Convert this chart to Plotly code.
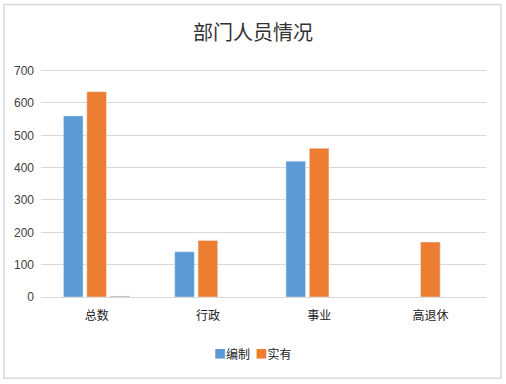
import plotly.graph_objects as go

categories = ["总数", "行政", "事业", "高退休"]
bianzhi = [560, 140, 420, None]
shiyou = [635, 175, 460, 170]
other = [3, None, None, None]
y_ticks = [0, 100, 200, 300, 400, 500, 600, 700]
series_names = ["编制", "实有"]
series_colors = ["#5B9BD5", "#ED7D31"]

font_cjk = "Noto Sans CJK SC"

fig = go.Figure()
fig.add_trace(go.Bar(name=series_names[0], x=categories, y=bianzhi, marker_color=series_colors[0], showlegend=False))
fig.add_trace(go.Bar(name=series_names[1], x=categories, y=shiyou, marker_color=series_colors[1], showlegend=False))
fig.add_trace(go.Bar(name="其他", x=categories, y=other, marker_color="#A5A5A5", showlegend=False))

top = 705
px_per_unit = 226 / 700
plot_h = top * px_per_unit
t_margin = 384 - 87 - plot_h

fig.update_layout(
    width=506, height=384,
    margin=dict(l=41, r=20, t=t_margin, b=87, autoexpand=False),
    paper_bgcolor="white", plot_bgcolor="white",
    barmode="group", bargap=0.37, bargroupgap=0.16,
    title=dict(text="部门人员情况", x=0.5, xanchor="center", y=1 - 33 / 384, yanchor="middle",
               font=dict(family=font_cjk, size=20, color="#333333")),
    font=dict(family=font_cjk, size=12, color="#333333"),
    showlegend=False,
)
fig.update_yaxes(range=[0, top], tickvals=y_ticks, showgrid=True, gridcolor="#D9D9D9", gridwidth=1,
                 zeroline=True, zerolinecolor="#D9D9D9", zerolinewidth=1, showline=False, ticks="",
                 ticklabelstandoff=6, tickfont=dict(family="Liberation Sans", size=12, color="#404040"))
fig.update_xaxes(showgrid=False, showline=False, ticks="", ticklabelstandoff=10,
                 tickfont=dict(family=font_cjk, size=12, color="#222222"))

legend_text = "  ".join(
    f'<span style="color:{c}">■</span>{n}' for n, c in zip(series_names, series_colors)
)
fig.add_annotation(text=legend_text, xref="paper", yref="paper", x=(252 - 41) / 445, y=(297 - 353) / plot_h,
                   xanchor="center", yanchor="middle", showarrow=False,
                   font=dict(family=font_cjk, size=12, color="#222222"))

fig.add_shape(type="rect", xref="paper", yref="paper",
              x0=(4 - 41) / 445, x1=(501 - 41) / 445, y0=(297 - 378) / plot_h, y1=(297 - 5) / plot_h,
              line=dict(color="#D9D9D9", width=1.5), fillcolor="rgba(0,0,0,0)", layer="below")

fig.write_html("out.html", config={"displayModeBar": False},
               post_script="document.body.style.margin='0';")
